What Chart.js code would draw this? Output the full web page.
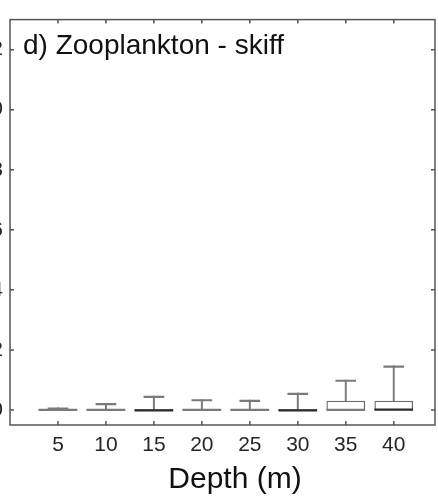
<!DOCTYPE html>
<html><head><meta charset="utf-8">
<script src="https://cdn.jsdelivr.net/npm/chart.js@4"></script>
<style>
html,body{margin:0;padding:0;width:438px;height:499px;overflow:hidden;background:#fff}
#wrap{position:absolute;left:-60px;top:0;width:498px;height:499px}
</style></head><body>
<div id="wrap"><canvas id="c" width="498" height="499"></canvas></div>
<script>
const depths = [5, 10, 15, 20, 25, 30, 35, 40];
const q1 = [0, 0, 0, 0, 0, 0, 0, 0];
const medians = [0, 0, 0.01, 0, 0, 0.01, 0, 0.04];
const q3 = [0.04, 0, 0.03, 0, 0, 0.03, 0.30, 0.30];
const whiskerHigh = [0.07, 0.22, 0.46, 0.35, 0.33, 0.56, 1.0, 1.47];
const yTickValues = [0, 2, 4, 6, 8, 10, 12];
const panelTitle = 'd) Zooplankton - skiff';
const xTitle = 'Depth (m)';

const FONT = '"Liberation Sans", Arial, Helvetica, sans-serif';
const TXT = '#262626';

const framePlugin = {
  id: 'frame',
  afterDatasetsDraw(chart) {
    const {ctx, chartArea: a, scales: {x, y}} = chart;
    ctx.save();
    ctx.strokeStyle = '#555';
    ctx.lineWidth = 1.5;
    ctx.strokeRect(a.left, a.top, a.right - a.left, a.bottom - a.top);
    ctx.beginPath();
    y.ticks.forEach(t => {
      const py = y.getPixelForValue(t.value);
      ctx.moveTo(a.left, py); ctx.lineTo(a.left + 4, py);
      ctx.moveTo(a.right, py); ctx.lineTo(a.right - 4, py);
    });
    x.ticks.forEach(t => {
      const px = x.getPixelForValue(t.value);
      ctx.moveTo(px, a.bottom); ctx.lineTo(px, a.bottom - 4);
      ctx.moveTo(px, a.top); ctx.lineTo(px, a.top + 4);
    });
    ctx.stroke();
    ctx.font = '28px ' + FONT;
    ctx.fillStyle = '#111';
    ctx.textBaseline = 'alphabetic';
    ctx.textAlign = 'left';
    ctx.fillText(panelTitle, a.left + 13, a.top + 34);
    ctx.restore();
  }
};

const pts = (lo, hi) => depths.map((d, i) => ({x: d, y: [lo[i], hi[i]]}));

new Chart(document.getElementById('c'), {
  type: 'bar',
  data: {
    datasets: [
      {label: 'whisker', data: pts(q3, whiskerHigh), backgroundColor: '#7a7a7a', borderWidth: 0,
       barThickness: 1.3, grouped: false, order: 4},
      {label: 'box', data: pts(q1, q3), backgroundColor: '#ffffff', borderColor: '#6a6a6a', borderWidth: 1.3,
       borderSkipped: false, barThickness: 38, minBarLength: 1.3, grouped: false, order: 3},
      {label: 'median', data: pts(medians, medians),
       backgroundColor: c => (medians[c.dataIndex] > 0 ? '#2a2a2a' : '#7a7a7a'), borderWidth: 0,
       barThickness: 38, minBarLength: 1.6, grouped: false, order: 2},
      {label: 'cap', data: pts(whiskerHigh, whiskerHigh), backgroundColor: '#7a7a7a', borderWidth: 0,
       barThickness: 20, minBarLength: 1.5, grouped: false, order: 1}
    ]
  },
  options: {
    responsive: false,
    animation: false,
    devicePixelRatio: 1,
    layout: {padding: {top: 10, right: 3, left: 0, bottom: 0}},
    plugins: {legend: {display: false}, tooltip: {enabled: false}},
    scales: {
      x: {
        type: 'linear', min: 0, max: 44.3, offset: false,
        afterBuildTicks: s => { s.ticks = depths.map(v => ({value: v})); },
        afterFit: s => { s.height = 74; },
        grid: {display: false, drawTicks: false},
        border: {display: false},
        ticks: {color: TXT, font: {family: FONT, size: 21}, padding: 8, maxRotation: 0, autoSkip: false},
        title: {display: true, text: '   ' + xTitle, color: '#111', font: {family: FONT, size: 30}, padding: {top: 0, bottom: 1}}
      },
      y: {
        min: -0.5, max: 13,
        afterBuildTicks: s => { s.ticks = yTickValues.map(v => ({value: v})); },
        afterFit: s => { s.width = 70; },
        grid: {display: false, drawTicks: false},
        border: {display: false},
        ticks: {color: TXT, font: {family: FONT, size: 21}, padding: 7}
      }
    }
  },
  plugins: [framePlugin]
});
</script>
</body></html>
